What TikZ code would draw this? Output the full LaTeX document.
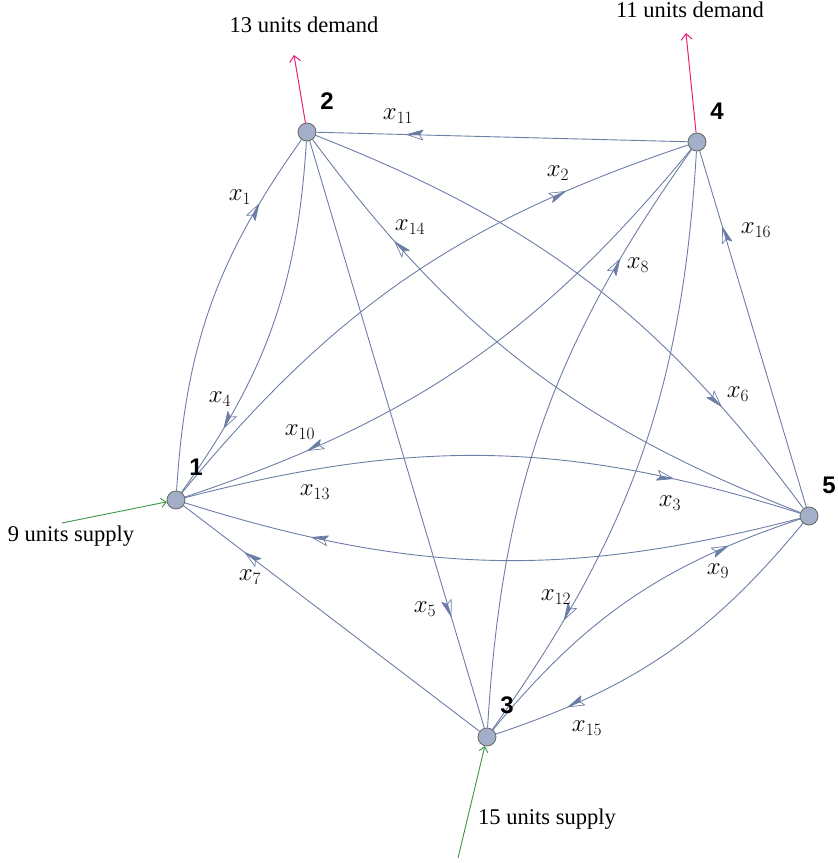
\documentclass[tikz,border=0pt]{standalone}
\usepackage{fontspec}
\setmainfont{Liberation Serif}
\newfontfamily\numfont{Liberation Sans}
\usetikzlibrary{decorations.markings,arrows.meta,backgrounds}
\definecolor{edgec}{RGB}{108,126,166}
\definecolor{nodefill}{RGB}{163,175,201}
\definecolor{demandc}{RGB}{236,30,122}
\definecolor{supplyc}{RGB}{60,150,70}
\newcommand\flowhead{%
  \filldraw[fill=white,draw=edgec,line width=0.7pt,line join=round] (6pt,0pt) -- (-10pt,5pt) -- (-6.5pt,0pt) -- cycle;
  \filldraw[fill=edgec,draw=edgec,line width=0.7pt,line join=round] (6pt,0pt) -- (-10pt,-5pt) -- (-6.5pt,0pt) -- cycle;}
\begin{document}
\begin{tikzpicture}[x=1pt,y=-1pt,
  vert/.style={circle,draw=black!60,fill=nodefill,minimum size=18pt,inner sep=0pt,line width=0.8pt},
  vnum/.style={font=\numfont\bfseries\fontsize{24}{26}\selectfont,inner sep=0pt},
  lab/.style={font=\fontsize{25}{28}\selectfont,inner sep=0pt},
  txt/.style={font=\fontsize{22.5}{26}\selectfont,inner sep=0pt},
  flow/.style={draw=edgec,line width=0.9pt,postaction={decorate,decoration={markings,mark=at position #1 with {\flowhead}}}},
  flow/.default=0.78,
  demand/.style={draw=demandc,line width=1pt,-{Straight Barb[length=6pt,width=11pt]}},
  supply/.style={draw=supplyc,line width=0.9pt,-{Straight Barb[length=5pt,width=9pt]}}
]
\useasboundingbox (0,0) rectangle (838,863);
% vertices
\node[vert] (n1) at (176,500) {};
\node[vert] (n2) at (307,132) {};
\node[vert] (n3) at (487,737) {};
\node[vert] (n4) at (697,142) {};
\node[vert] (n5) at (809,516) {};
\node[vnum] (t1) at (196,467) {1};
\node[vnum] (t2) at (327,101) {2};
\node[vnum] (t3) at (507,705) {3};
\node[vnum] (t4) at (717,111) {4};
\node[vnum] (t5) at (829,485) {5};
% edges
\begin{scope}[on background layer]
\draw[flow] (n1) to[bend left=16] (n2);
\draw[flow] (n2) to[bend left=16] (n1);
\draw[flow] (n1) to[bend left=16] (n4);
\draw[flow] (n4) to[bend left=16] (n1);
\draw[flow] (n1) to[bend left=16] (n5);
\draw[flow] (n5) to[bend left=16] (n1);
\draw[flow] (n3) to[bend left=16] (n5);
\draw[flow] (n5) to[bend left=16] (n3);
\draw[flow] (n3) to[bend left=16] (n4);
\draw[flow] (n4) to[bend left=16] (n3);
\draw[flow] (n5) to[bend left=16] (n2);
\draw[flow] (n2) to[bend left=16] (n5);
\draw[flow=0.74] (n4) -- (n2);
\draw[flow=0.77] (n5) -- (n4);
\draw[flow=0.775] (n3) -- (n1);
\draw[flow=0.80] (n2) -- (n3);
\end{scope}
% edge labels
\node[lab] (l1) at (240,197) {$x_{1}$};
\node[lab] (l2) at (558,173) {$x_{2}$};
\node[lab] (l3) at (670,503) {$x_{3}$};
\node[lab] (l4) at (220,399) {$x_{4}$};
\node[lab] (l5) at (425,609) {$x_{5}$};
\node[lab] (l6) at (738,394) {$x_{6}$};
\node[lab] (l7) at (250,577) {$x_{7}$};
\node[lab] (l8) at (638,265) {$x_{8}$};
\node[lab] (l9) at (718,571) {$x_{9}$};
\node[lab] (l10) at (300,432) {$x_{10}$};
\node[lab] (l11) at (398,116) {$x_{11}$};
\node[lab] (l12) at (556,597) {$x_{12}$};
\node[lab] (l13) at (315,492) {$x_{13}$};
\node[lab] (l14) at (410,227) {$x_{14}$};
\node[lab] (l15) at (587,728) {$x_{15}$};
\node[lab] (l16) at (756,230) {$x_{16}$};
% demand / supply
\coordinate (d2) at (294,55);
\coordinate (d4) at (686,33);
\coordinate (s1) at (62,523);
\coordinate (s3) at (458,858);
\draw[demand] (n2) -- (d2);
\draw[demand] (n4) -- (d4);
\draw[supply] (s1) -- (n1);
\draw[supply] (s3) -- (n3);
\node[txt] (dt2) at (304,25) {13 units demand};
\node[txt] (dt4) at (690,10) {11 units demand};
\node[txt] (st1) at (71,536) {9 units supply};
\node[txt] (st3) at (547,819) {15 units supply};
\end{tikzpicture}
\end{document}
